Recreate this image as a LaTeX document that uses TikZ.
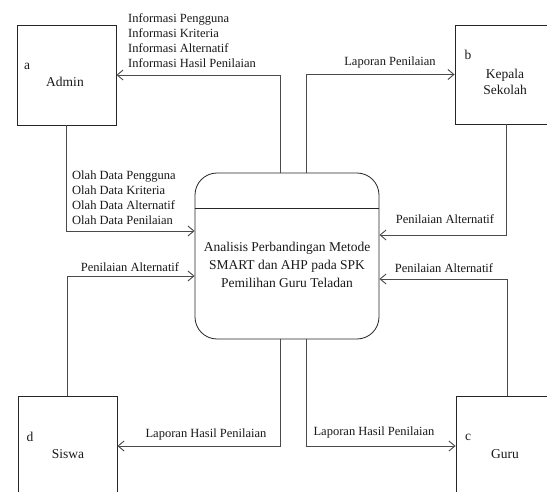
\documentclass[tikz,border=0pt]{standalone}
\usepackage{fontspec}
\setmainfont{Liberation Serif}
\usetikzlibrary{arrows.meta}
\definecolor{linegray}{HTML}{4A4A4A}
\begin{document}
\begin{tikzpicture}[x=1pt,y=-1pt,
  entity/.style={draw=black!85,line width=0.8pt,minimum width=99pt,minimum height=100pt,inner sep=0pt},
  procbox/.style={draw=black!85,line width=0.8pt,rounded corners=22pt,minimum width=184pt,minimum height=166pt,inner sep=0pt},
  flow/.style={draw=linegray,line width=0.9pt,-{Straight Barb[length=6pt,width=10pt]}},
  lbl/.style={font=\fontsize{12.5}{15}\selectfont,inner sep=0pt,text=black!90},
  nm/.style={font=\fontsize{13.5}{16}\selectfont,inner sep=0pt,align=center,text=black!90}]
\clip (0,0) rectangle (547,492);
\fill[white] (0,0) rectangle (547,492);
% entities
\node[entity] (admin) at (66.5,75) {};
\node[entity,minimum width=102pt,minimum height=99pt] (kepala) at (506,74.5) {};
\node[entity,minimum width=99pt] (siswa) at (67.5,446) {};
\node[entity,minimum width=102pt] (guru) at (507,446) {};
\node[procbox] (proc) at (287,256) {};
\draw[draw=black!85,line width=0.8pt] ([yshift=48pt]proc.west) -- ([yshift=48pt]proc.east);
% texts in shapes
\node[nm] (tadmin) at (65,82) {Admin};
\node[nm] (la) at (27,66) {a};
\node[nm] (tkepala) at (505,82) {Kepala\\Sekolah};
\node[nm] (lb) at (468,55) {b};
\node[nm] (tsiswa) at (68,454) {Siswa};
\node[nm] (ld) at (30,437) {d};
\node[nm] (tguru) at (505,454) {Guru};
\node[nm] (lc) at (468,437) {c};
\node[nm,font=\fontsize{13.5}{18}\selectfont] (tproc) at (287,265) {Analisis Perbandingan Metode\\SMART dan AHP pada SPK\\Pemilihan Guru Teladan};
% flows
\draw[flow] ([xshift=-7pt]proc.north) |- (admin.east);
\draw[flow] ([xshift=19pt]proc.north) |- (kepala.west);
\draw[flow] (admin.south) |- ([yshift=25pt]proc.west);
\draw[flow] (siswa.north) |- ([yshift=-20pt]proc.west);
\draw[flow] (kepala.south) |- ([yshift=21pt]proc.east);
\draw[flow] (guru.north) |- ([yshift=-23pt]proc.east);
\draw[flow] ([xshift=-7pt]proc.south) |- (siswa.east);
\draw[flow] ([xshift=19pt]proc.south) |- (guru.west);
% flow labels
\node[lbl,align=left,anchor=west] (linfo) at (128,40.5) {Informasi Pengguna\\Informasi Kriteria\\Informasi Alternatif\\Informasi Hasil Penilaian};
\node[lbl] (llap) at (390,62) {Laporan Penilaian};
\node[lbl,align=left,anchor=west] (lolah) at (72,198) {Olah Data Pengguna\\Olah Data Kriteria\\Olah Data Alternatif\\Olah Data Penilaian};
\node[lbl] (lpa1) at (445,219) {Penilaian Alternatif};
\node[lbl] (lpa2) at (130,267) {Penilaian Alternatif};
\node[lbl] (lpa3) at (444,268) {Penilaian Alternatif};
\node[lbl] (lhs) at (206,434) {Laporan Hasil Penilaian};
\node[lbl] (lhg) at (374,432) {Laporan Hasil Penilaian};
\end{tikzpicture}
\end{document}
